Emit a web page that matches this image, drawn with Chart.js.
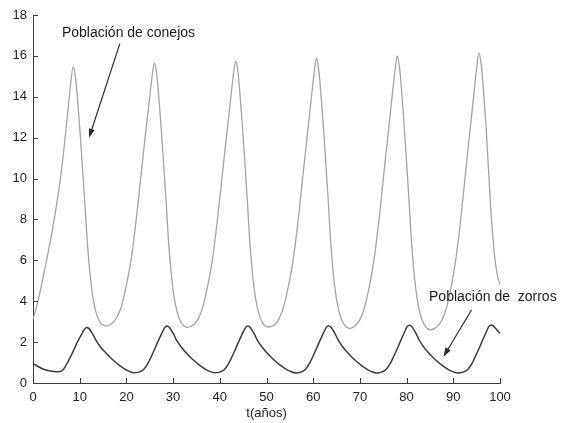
<!DOCTYPE html>
<html>
<head>
<meta charset="utf-8">
<script src="https://cdn.jsdelivr.net/npm/chart.js@4/dist/chart.umd.min.js"></script>
<style>
html,body{margin:0;padding:0;background:#fff;}
canvas{display:block;}
</style>
</head>
<body>
<canvas id="c" width="561" height="423"></canvas>
<script>
// ---- data ----
const xTicks = [0,10,20,30,40,50,60,70,80,90,100];
const yTicks = [0,2,4,6,8,10,12,14,16,18];
const xTitle = 't(años)';
const labelConejos = 'Población de conejos';
const labelZorros = 'Población de  zorros';

const rabbitT = [0,0.5,1,1.5,2,2.5,3,3.5,4,4.5,5,5.5,6.1,6.6,7.1,7.6,8.1,8.6,
 9.1,9.6,10.1,10.6,11.1,11.6,12.1,12.6,13.1,13.6,14.1,14.6,15.1,15.7,
 17.0,18.0,19.0,20.0,21.0,21.5,22.0,22.5,23.0,23.5,24.0,24.5,25.0,25.5,26.0,
 26.5,27.0,27.5,28.0,28.5,29.0,29.5,30.0,30.5,31.0,31.5,32.0,32.5,33.0,
 34.4,35.4,36.4,37.4,38.4,38.9,39.4,39.9,40.4,40.9,41.4,41.9,42.4,42.9,43.4,
 43.9,44.4,44.9,45.4,45.9,46.4,46.9,47.4,47.9,48.4,48.9,49.4,49.9,50.4,
 51.7,52.7,53.7,54.7,55.7,56.2,56.7,57.2,57.7,58.2,58.7,59.2,59.7,60.2,60.7,
 61.2,61.7,62.2,62.7,63.2,63.7,64.2,64.7,65.2,65.7,66.2,66.7,67.2,67.9,
 69.0,70.0,71.0,72.0,73.0,73.5,74.0,74.5,75.0,75.5,76.0,76.5,77.0,77.5,78.0,
 78.5,79.0,79.5,80.0,80.5,81.0,81.5,82.0,82.5,83.0,83.5,84.0,84.5,85.1,
 86.5,87.5,88.5,89.5,90.5,91.0,91.5,92.0,92.5,93.0,93.5,94.0,94.5,95.0,95.5,
 96.0,96.5,97.0,97.5,98.0,98.5,99.0,99.5,100];
const rabbitY = [3.12,3.5,3.92,4.45,5.0,5.55,6.1,6.7,7.3,7.95,8.65,9.4,10.4,11.4,12.5,13.6,14.7,15.46,
 14.95,13.7,12.2,10.5,8.8,7.0,5.6,4.55,3.85,3.37,3.08,2.9,2.82,2.79,
 2.93,3.23,3.8,4.8,6.0,6.85,7.8,8.85,9.9,10.95,12.0,13.0,14.0,15.0,15.64,
 15.1,13.8,12.3,10.6,8.9,7.0,5.6,4.55,3.85,3.37,3.06,2.87,2.76,2.72,
 2.85,3.15,3.75,4.75,6.0,6.85,7.8,8.85,9.9,10.95,12.0,13.0,14.05,15.05,15.75,
 15.2,13.9,12.4,10.7,8.9,7.0,5.6,4.55,3.85,3.37,3.06,2.87,2.77,2.74,
 2.85,3.15,3.75,4.75,6.0,6.85,7.8,8.85,9.95,11.0,12.05,13.1,14.15,15.15,15.9,
 15.3,14.0,12.5,10.8,9.0,7.05,5.6,4.55,3.83,3.35,3.03,2.84,2.72,2.67,
 2.8,3.1,3.7,4.7,6.0,6.85,7.8,8.85,9.95,11.05,12.1,13.15,14.25,15.25,16.0,
 15.4,14.1,12.5,10.8,9.0,7.05,5.6,4.55,3.8,3.3,2.98,2.78,2.66,2.6,
 2.75,3.05,3.65,4.65,6.0,6.85,7.8,8.9,10.0,11.1,12.2,13.25,14.35,15.4,16.15,
 15.55,14.2,12.6,10.6,8.6,7.1,5.9,5.2,4.8];

const foxT = [0,1,2,3,4,5,5.5,6.5,7.5,8.5,9.5,10.5,11.0,11.5,
 12.0,12.5,13.0,13.5,14.5,15.5,16.5,17.5,18.5,19.5,20.5,21.6,22.7,23.7,24.7,25.7,26.7,27.7,28.2,28.7,
 29.2,29.7,30.2,30.7,31.7,32.7,33.7,34.7,35.7,36.7,37.7,38.9,40.0,41.0,42.0,43.0,44.0,45.0,45.5,46.0,
 46.5,47.0,47.5,48.0,49.0,50.0,51.0,52.0,53.0,54.0,55.0,56.3,57.3,58.3,59.3,60.3,61.3,62.3,62.8,63.3,
 63.8,64.3,64.8,65.3,66.3,67.3,68.3,69.3,70.3,71.3,72.3,73.6,74.6,75.6,76.6,77.6,78.6,79.6,80.1,80.6,
 81.1,81.6,82.1,82.6,83.6,84.6,85.6,86.6,87.6,88.6,89.6,91.0,92.1,93.1,94.1,95.1,96.1,97.1,97.6,98.1,
 98.6,99.1,99.6,100];
const foxY = [0.96,0.82,0.7,0.62,0.57,0.55,0.55,0.66,1.05,1.5,2.0,2.42,2.62,2.72,
 2.66,2.5,2.3,2.08,1.75,1.5,1.26,1.05,0.86,0.7,0.58,0.5,0.53,0.66,1.0,1.48,2.0,2.49,2.71,2.79,
 2.72,2.55,2.35,2.11,1.77,1.5,1.26,1.05,0.86,0.7,0.58,0.5,0.53,0.66,1.0,1.48,2.0,2.49,2.71,2.79,
 2.72,2.55,2.35,2.11,1.77,1.5,1.26,1.05,0.86,0.7,0.58,0.49,0.53,0.66,1.0,1.48,2.0,2.5,2.72,2.8,
 2.73,2.56,2.36,2.12,1.77,1.5,1.26,1.05,0.86,0.7,0.58,0.49,0.53,0.66,1.0,1.48,2.0,2.52,2.75,2.83,
 2.76,2.59,2.39,2.14,1.78,1.5,1.26,1.05,0.86,0.7,0.58,0.49,0.53,0.66,1.0,1.48,2.0,2.52,2.76,2.84,
 2.78,2.66,2.52,2.43];

// ---- annotation anchors (data units) ----
const notes = [
  {text: labelConejos, tx: 6.2, ty: 17.1, ax0: 18.6, ay0: 16.6, ax1: 12.0, ay1: 12.0},
  {text: labelZorros, tx: 84.8, ty: 4.2, ax0: 93.9, ay0: 3.57, ax1: 87.9, ay1: 1.29}
];

const FONT = "'Liberation Sans', Arial, sans-serif";
const AXIS = '#3a3a3a';

const toPts = (xs, ys) => xs.map((x, i) => ({x: x, y: ys[i]}));

const inwardTicks = {
  id: 'inwardTicks',
  afterDatasetsDraw(chart) {
    const {ctx, scales: {x, y}, chartArea: a} = chart;
    ctx.save();
    ctx.strokeStyle = AXIS;
    ctx.lineWidth = 1;
    ctx.beginPath();
    x.ticks.forEach((t, i) => {
      const px = Math.round(x.getPixelForTick(i)) + 0.5;
      ctx.moveTo(px, a.bottom); ctx.lineTo(px, a.bottom - 5);
    });
    y.ticks.forEach((t, i) => {
      const py = Math.round(y.getPixelForTick(i)) + 0.5;
      ctx.moveTo(a.left, py); ctx.lineTo(a.left + 5, py);
    });
    ctx.stroke();
    ctx.restore();
  }
};

const annot = {
  id: 'annot',
  afterDraw(chart) {
    const {ctx, scales: {x, y}} = chart;
    ctx.save();
    notes.forEach(n => {
      ctx.font = '14px ' + FONT;
      ctx.fillStyle = '#1a1a1a';
      ctx.textAlign = 'left';
      ctx.textBaseline = 'middle';
      ctx.fillText(n.text, x.getPixelForValue(n.tx), y.getPixelForValue(n.ty));
      const x0 = x.getPixelForValue(n.ax0), y0 = y.getPixelForValue(n.ay0);
      const x1 = x.getPixelForValue(n.ax1), y1 = y.getPixelForValue(n.ay1);
      const ang = Math.atan2(y1 - y0, x1 - x0);
      const hl = 9, hw = 3;
      ctx.strokeStyle = '#2a2a2a';
      ctx.lineWidth = 1.2;
      ctx.beginPath();
      ctx.moveTo(x0, y0);
      ctx.lineTo(x1 - Math.cos(ang) * hl * 0.8, y1 - Math.sin(ang) * hl * 0.8);
      ctx.stroke();
      ctx.fillStyle = '#2a2a2a';
      ctx.beginPath();
      ctx.moveTo(x1, y1);
      ctx.lineTo(x1 - Math.cos(ang) * hl - Math.sin(ang) * hw, y1 - Math.sin(ang) * hl + Math.cos(ang) * hw);
      ctx.lineTo(x1 - Math.cos(ang) * hl + Math.sin(ang) * hw, y1 - Math.sin(ang) * hl - Math.cos(ang) * hw);
      ctx.closePath();
      ctx.fill();
    });
    ctx.restore();
  }
};

new Chart(document.getElementById('c'), {
  type: 'line',
  data: {
    datasets: [
      {label: labelConejos, data: toPts(rabbitT, rabbitY), borderColor: '#a3a3a3', borderWidth: 1.3,
       pointRadius: 0, cubicInterpolationMode: 'monotone', fill: false},
      {label: labelZorros, data: toPts(foxT, foxY), borderColor: '#3c3c3c', borderWidth: 1.5,
       pointRadius: 0, cubicInterpolationMode: 'monotone', fill: false}
    ]
  },
  options: {
    responsive: false,
    animation: false,
    devicePixelRatio: 1,
    layout: {padding: {left: 0, right: 61, top: 15, bottom: 0}},
    plugins: {legend: {display: false}, tooltip: {enabled: false}},
    scales: {
      x: {
        type: 'linear', min: 0, max: 100,
        afterBuildTicks: s => { s.ticks = xTicks.map(v => ({value: v})); },
        afterFit: s => { s.height = 40; },
        grid: {display: false, drawTicks: false},
        border: {display: true, color: AXIS, width: 1},
        ticks: {padding: 7, maxRotation: 0, autoSkip: false, color: '#1e1e1e', font: {family: FONT, size: 13}},
        title: {display: true, text: xTitle, color: '#1e1e1e', font: {family: FONT, size: 13}, padding: {top: 0, bottom: 2}}
      },
      y: {
        type: 'linear', min: 0, max: 18,
        afterBuildTicks: s => { s.ticks = yTicks.map(v => ({value: v})); },
        afterFit: s => { s.width = 33; },
        grid: {display: false, drawTicks: false},
        border: {display: true, color: AXIS, width: 1},
        ticks: {padding: 6, color: '#1e1e1e', font: {family: FONT, size: 13}}
      }
    }
  },
  plugins: [inwardTicks, annot]
});
</script>
</body>
</html>
